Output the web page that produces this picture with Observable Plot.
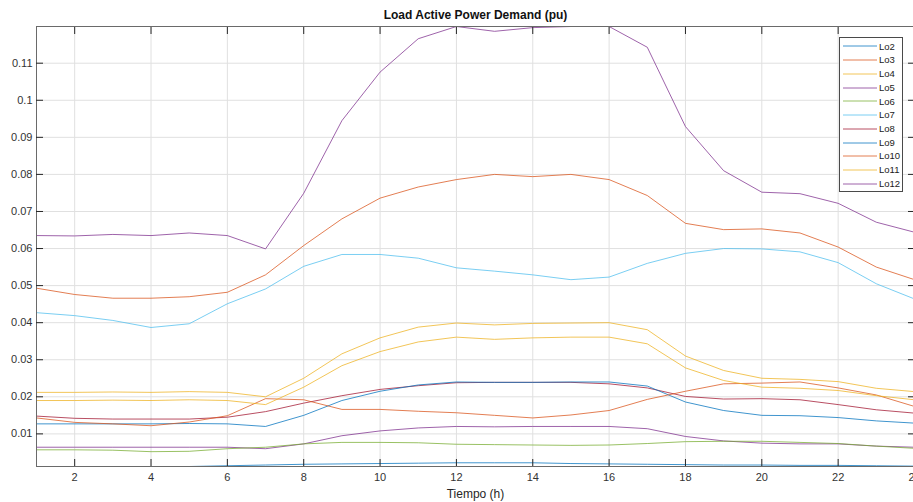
<!DOCTYPE html>
<html><head><meta charset="utf-8">
<script src="https://cdn.jsdelivr.net/npm/d3@7"></script>
<script src="https://cdn.jsdelivr.net/npm/@observablehq/plot@0.6"></script>
<style>
html,body{margin:0;padding:0;background:#fff;overflow:hidden}
#wrap{position:relative;width:913px;height:502px;font-family:"Liberation Sans",Arial,Helvetica,sans-serif}
#legend{position:absolute;left:839px;top:37px;width:62px;padding:1.5px 0 0 0;border:1px solid #4a4a4a;background:#fff;box-sizing:content-box}
.row{height:13.74px;display:flex;align-items:center;font-size:9.5px;color:#1a1a1a;line-height:1}
.row svg{margin-left:3px;margin-right:2px;flex:none}
</style></head>
<body><div id="wrap"></div>
<script>
const hours = [1,2,3,4,5,6,7,8,9,10,11,12,13,14,15,16,17,18,19,20,21,22,23,24];
const seriesNames = ["Lo2","Lo3","Lo4","Lo5","Lo6","Lo7","Lo8","Lo9","Lo10","Lo11","Lo12"];
const seriesColors = ["#0072BD","#D95319","#EDB120","#7E2F8E","#77AC30","#4DBEEE","#A2142F","#0072BD","#D95319","#EDB120","#7E2F8E"];

const Lo2  = [0.0012,0.0012,0.0012,0.0012,0.0012,0.0014,0.0016,0.0018,0.0019,0.0020,0.0021,0.0022,0.0022,0.0022,0.0020,0.0019,0.0018,0.0017,0.0016,0.0016,0.0015,0.0015,0.0014,0.0013];
const Lo3  = [0.0493,0.0476,0.0466,0.0466,0.0470,0.0482,0.0529,0.0608,0.0680,0.0736,0.0766,0.0786,0.0800,0.0794,0.0800,0.0786,0.0743,0.0668,0.0651,0.0653,0.0642,0.0604,0.0550,0.0516];
const Lo4  = [0.0212,0.0212,0.0213,0.0212,0.0214,0.0212,0.0200,0.0250,0.0316,0.0359,0.0388,0.0399,0.0394,0.0398,0.0399,0.0400,0.0381,0.0310,0.0271,0.0250,0.0247,0.0241,0.0223,0.0214];
const Lo5  = [0.0064,0.0064,0.0064,0.0064,0.0064,0.0064,0.0060,0.0073,0.0095,0.0108,0.0116,0.0120,0.0119,0.0120,0.0120,0.0120,0.0114,0.0093,0.0081,0.0075,0.0073,0.0073,0.0067,0.0064];
const Lo6  = [0.0057,0.0057,0.0056,0.0052,0.0053,0.0060,0.0064,0.0073,0.0077,0.0077,0.0076,0.0072,0.0071,0.0070,0.0069,0.0070,0.0074,0.0079,0.0080,0.0080,0.0077,0.0074,0.0067,0.0061];
const Lo7  = [0.0427,0.0419,0.0406,0.0387,0.0397,0.0451,0.0491,0.0552,0.0584,0.0584,0.0574,0.0548,0.0539,0.0529,0.0516,0.0523,0.0560,0.0587,0.0600,0.0599,0.0591,0.0562,0.0505,0.0464];
const Lo8  = [0.0148,0.0142,0.0140,0.0140,0.0140,0.0145,0.0160,0.0183,0.0203,0.0220,0.0230,0.0238,0.0239,0.0239,0.0239,0.0235,0.0224,0.0201,0.0194,0.0195,0.0192,0.0179,0.0165,0.0156];
const Lo9  = [0.0127,0.0127,0.0127,0.0127,0.0128,0.0127,0.0120,0.0150,0.0190,0.0215,0.0232,0.0240,0.0239,0.0239,0.0240,0.0240,0.0229,0.0186,0.0163,0.0150,0.0149,0.0144,0.0135,0.0129];
const Lo10 = [0.0143,0.0131,0.0127,0.0122,0.0132,0.0149,0.0195,0.0192,0.0166,0.0166,0.0161,0.0157,0.0150,0.0143,0.0151,0.0163,0.0193,0.0215,0.0235,0.0237,0.0240,0.0224,0.0205,0.0174];
const Lo11 = [0.0190,0.0190,0.0191,0.0190,0.0192,0.0190,0.0179,0.0226,0.0284,0.0322,0.0348,0.0361,0.0355,0.0359,0.0361,0.0361,0.0343,0.0278,0.0244,0.0226,0.0223,0.0217,0.0203,0.0192];
const Lo12 = [0.0635,0.0634,0.0638,0.0635,0.0642,0.0635,0.0599,0.0749,0.0945,0.1076,0.1166,0.1199,0.1186,0.1196,0.1199,0.1199,0.1143,0.0929,0.0810,0.0752,0.0748,0.0722,0.0671,0.0644];

const xTicks = [2,4,6,8,10,12,14,16,18,20,22,24];
const yTicks = [0.01,0.02,0.03,0.04,0.05,0.06,0.07,0.08,0.09,0.1,0.11];
const yTickLabels = ["0.01","0.02","0.03","0.04","0.05","0.06","0.07","0.08","0.09","0.1","0.11"];
const titleText = "Load Active Power Demand (pu)";
const xLabelText = "Tiempo (h)";

const allSeries = [Lo2,Lo3,Lo4,Lo5,Lo6,Lo7,Lo8,Lo9,Lo10,Lo11,Lo12];
const data = [];
allSeries.forEach((arr, si) => arr.forEach((v, i) => data.push({hour: hours[i], value: v, series: seriesNames[si]})));
const yDomain = d3.extent(data, d => d.value);

const axisColor = "#262626";
const chart = Plot.plot({
  width: 913, height: 502,
  marginLeft: 36, marginRight: -1, marginTop: 26, marginBottom: 36,
  style: {fontFamily: '"Liberation Sans", Arial, Helvetica, sans-serif', fontSize: "11px", color: axisColor, background: "#fff"},
  x: {domain: [1, 24]},
  y: {domain: yDomain},
  color: {domain: seriesNames, range: seriesColors},
  marks: [
    Plot.gridX(xTicks, {stroke: "#e0e0e0", strokeOpacity: 1}),
    Plot.gridY(yTicks, {stroke: "#e0e0e0", strokeOpacity: 1}),
    Plot.lineY(data, {x: "hour", y: "value", z: "series", stroke: "series", strokeWidth: 1, strokeOpacity: 0.75}),
    Plot.frame({stroke: "#6a6a6a"}),
    Plot.axisX(xTicks, {anchor: "bottom", tickSize: -7, fill: "none", label: null, stroke: axisColor}),
    Plot.axisX(xTicks, {anchor: "top", tickSize: -7, fill: "none", label: null, stroke: axisColor}),
    Plot.axisY(yTicks, {anchor: "left", tickSize: -7, fill: "none", label: null, stroke: axisColor}),
    Plot.axisY(yTicks, {anchor: "right", tickSize: -7, fill: "none", label: null, stroke: axisColor}),
    Plot.axisX(xTicks, {anchor: "bottom", tickSize: 0, tickPadding: 7, label: null, fill: "#333"}),
    Plot.axisY(yTicks, {anchor: "left", tickSize: 0, tickPadding: 4, label: null, fill: "#333",
      tickFormat: d => yTickLabels[yTicks.indexOf(d)]}),
    Plot.text([titleText], {frameAnchor: "top", dy: -11, lineAnchor: "middle", fontWeight: "bold", fontSize: 12, fill: "#111"}),
    Plot.text([xLabelText], {frameAnchor: "bottom", dy: 28, lineAnchor: "middle", fontSize: 12, fill: "#262626"})
  ]
});
const wrap = document.getElementById("wrap");
wrap.appendChild(chart);

const legend = document.createElement("div");
legend.id = "legend";
seriesNames.forEach((name, i) => {
  const row = document.createElement("div");
  row.className = "row";
  row.innerHTML = `<svg width="34" height="4"><line x1="0" y1="2" x2="34" y2="2" stroke="${seriesColors[i]}" stroke-opacity="0.75" stroke-width="1"/></svg><span>${name}</span>`;
  legend.appendChild(row);
});
wrap.appendChild(legend);
</script>
</body></html>
